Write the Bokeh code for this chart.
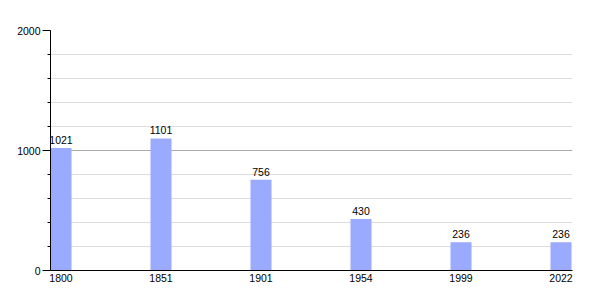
from bokeh.plotting import figure
from bokeh.models import Range1d, FixedTicker, SingleIntervalTicker, ColumnDataSource
from bokeh.embed import file_html
from bokeh.resources import INLINE

years = ["1800", "1851", "1901", "1954", "1999", "2022"]
population = [1021, 1101, 756, 430, 236, 236]
y_ticks = [0, 1000, 2000]

idx = list(range(len(years)))
src = ColumnDataSource(dict(x=idx, top=population, label=[str(v) for v in population]))

FONT = "Liberation Sans"
p = figure(width=600, height=300, output_backend="svg", toolbar_location=None,
           x_range=Range1d(-0.105, len(years) - 1 + 0.115), y_range=Range1d(0, 2000),
           min_border_left=50, min_border_right=28, min_border_top=30, min_border_bottom=30)
p.outline_line_color = None
p.background_fill_color = "white"

p.vbar(x="x", top="top", width=0.21, bottom=0, source=src,
       fill_color="#99aaff", line_color=None)
p.text(x="x", y="top", text="label", source=src, text_align="center",
       text_baseline="bottom", y_offset=-4, text_font_size="10.5px",
       text_color="black", text_font={"value": FONT})

# x axis
p.xaxis.ticker = FixedTicker(ticks=idx)
p.xaxis.major_label_overrides = {i: y for i, y in zip(idx, years)}
p.xaxis.major_tick_out = 0
p.xaxis.major_tick_in = 0
p.xaxis.minor_tick_out = 0
p.xaxis.major_label_standoff = 3
p.xaxis.major_label_text_font_size = "10.5px"
p.xaxis.major_label_text_font = FONT
p.xaxis.major_label_text_color = "black"
p.xaxis.axis_line_color = "black"
p.xgrid.grid_line_color = None

# y axis
p.yaxis.ticker = SingleIntervalTicker(interval=1000, num_minor_ticks=5)
p.yaxis.major_tick_out = 8
p.yaxis.major_tick_in = 0
p.yaxis.minor_tick_out = 3
p.yaxis.minor_tick_in = 0
p.yaxis.major_label_standoff = 2
p.yaxis.major_label_text_font_size = "10.5px"
p.yaxis.major_label_text_font = FONT
p.yaxis.major_label_text_color = "black"
p.yaxis.axis_line_color = "black"
p.yaxis.major_tick_line_color = "black"
p.yaxis.minor_tick_line_color = "black"
p.ygrid.ticker = SingleIntervalTicker(interval=1000, num_minor_ticks=5)
p.ygrid.grid_line_color = "#aaaaaa"
p.ygrid.minor_grid_line_color = "#dddddd"

open("out.html", "w").write(file_html(p, INLINE))
